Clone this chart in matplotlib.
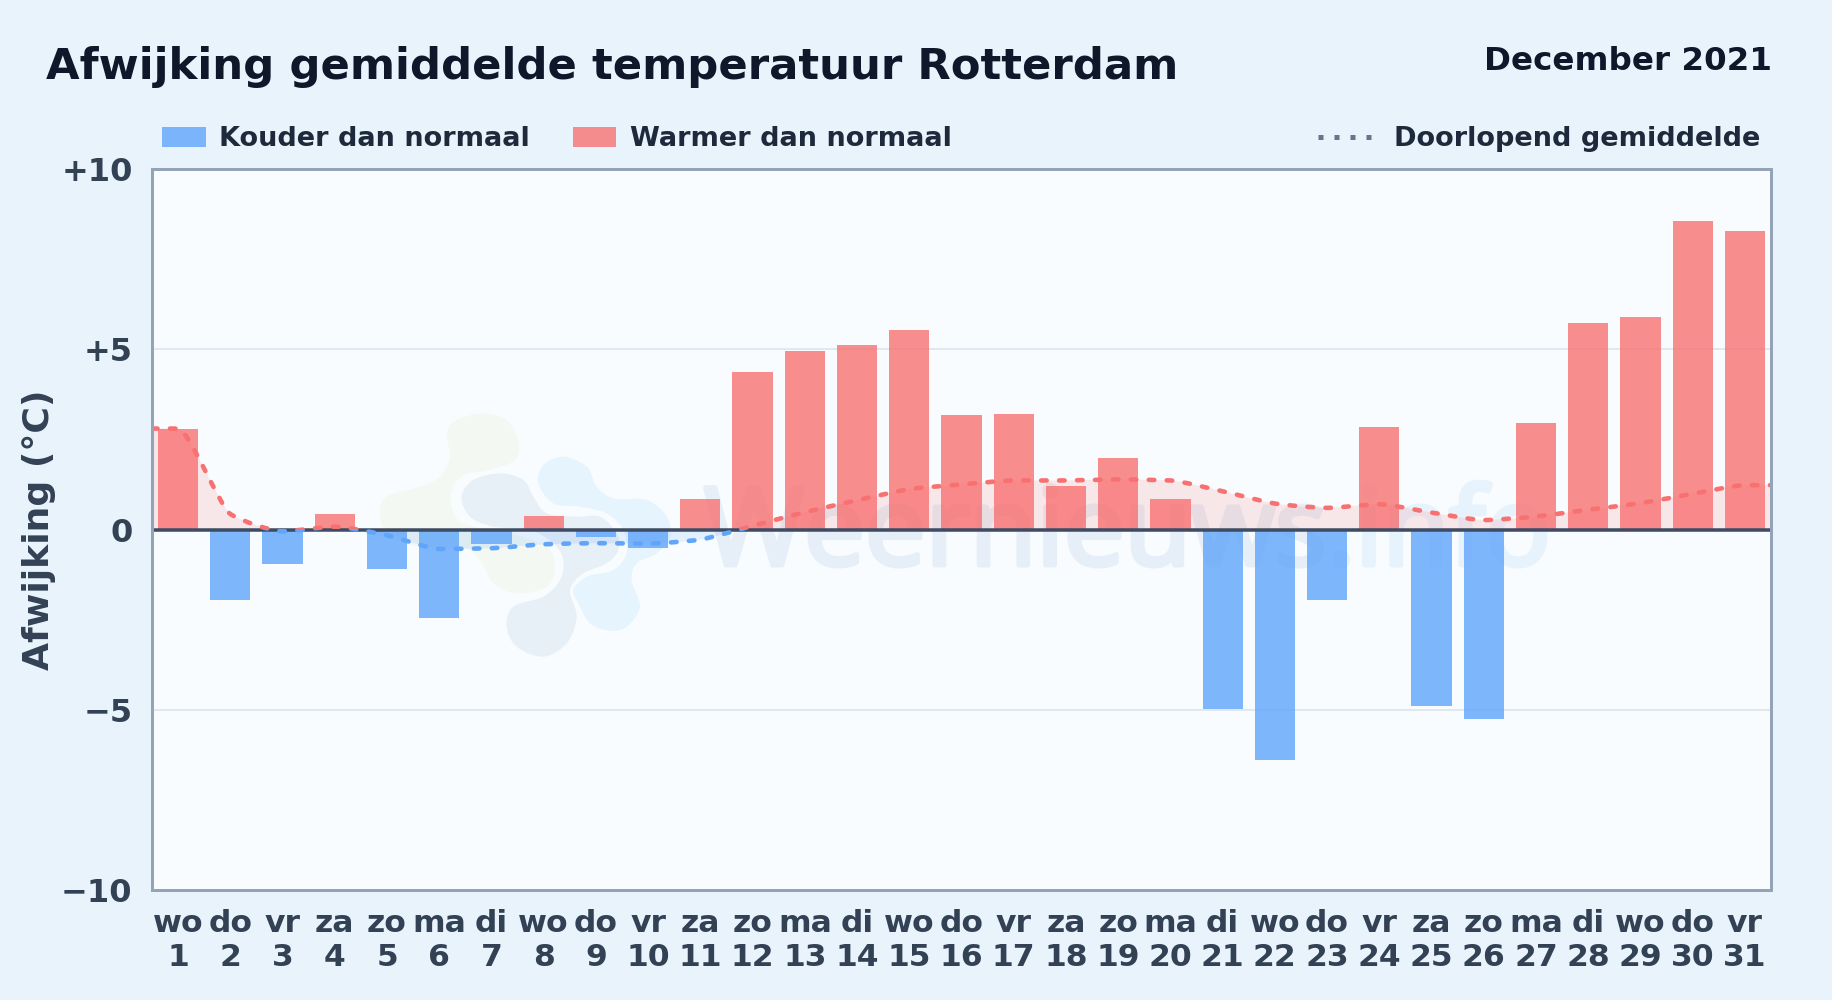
import numpy as np
import matplotlib
matplotlib.use('Agg')
import matplotlib.pyplot as plt
import matplotlib.patheffects as pe
from matplotlib.lines import Line2D
from matplotlib.patches import PathPatch, Rectangle
from matplotlib.path import Path
from matplotlib.transforms import Affine2D

days = list(range(1, 32))
weekdays = ['wo', 'do', 'vr', 'za', 'zo', 'ma', 'di', 'wo', 'do', 'vr', 'za', 'zo', 'ma', 'di', 'wo', 'do',
            'vr', 'za', 'zo', 'ma', 'di', 'wo', 'do', 'vr', 'za', 'zo', 'ma', 'di', 'wo', 'do', 'vr']
deviation = [2.8, -1.95, -0.97, 0.42, -1.1, -2.45, -0.4, 0.38, -0.2, -0.5, 0.85, 4.38, 4.95, 5.13, 5.53, 3.18,
             3.2, 1.2, 1.98, 0.85, -4.97, -6.4, -1.95, 2.85, -4.9, -5.25, 2.95, 5.73, 5.9, 8.55, 8.27]
running_mean = [2.8, 0.43, -0.05, 0.08, -0.16, -0.54, -0.52, -0.41, -0.38, -0.39, -0.28, 0.1, 0.48, 0.81, 1.12, 1.25,
                1.36, 1.36, 1.39, 1.36, 1.06, 0.72, 0.6, 0.7, 0.47, 0.26, 0.36, 0.55, 0.73, 0.99, 1.23]
y_ticks = [-10, -5, 0, 5, 10]
y_tick_labels = ['\u221210', '\u22125', '0', '+5', '+10']

BG = '#e8f3fc'
PLOT_BG = '#f8fcff'
RED = '#f87171'
BLUE = '#60a5fa'
PX = 0.72  # 1 pixel in points at dpi 100

plt.rcParams['font.family'] = 'DejaVu Sans'
plt.rcParams['font.weight'] = 'bold'


def monotone_curve(x, y, handle=0.2):
    # monotone cubic segments, returned as bezier vertices
    x = np.asarray(x, float)
    y = np.asarray(y, float)
    h = np.diff(x)
    s = np.diff(y) / h
    t = np.zeros(len(x))
    for i in range(1, len(x) - 1):
        p = (s[i - 1] * h[i] + s[i] * h[i - 1]) / (h[i - 1] + h[i])
        t[i] = (np.sign(s[i - 1]) + np.sign(s[i])) * min(abs(s[i - 1]), abs(s[i]), 0.5 * abs(p))
    t[0] = s[0]
    t[-1] = s[-1]
    verts = [(x[0], y[0])]
    for i in range(len(h)):
        verts.append((x[i] + h[i] * handle, y[i] + t[i] * h[i] * handle))
        verts.append((x[i + 1] - h[i] * handle, y[i + 1] - t[i + 1] * h[i] * handle))
        verts.append((x[i + 1], y[i + 1]))
    return verts


def blob_path(points):
    # closed smooth outline through the points
    pts = np.array(points, float)
    n = len(pts)
    verts = [tuple(pts[0])]
    codes = [Path.MOVETO]
    for i in range(n):
        p0, p1, p2, p3 = pts[i - 1], pts[i], pts[(i + 1) % n], pts[(i + 2) % n]
        verts += [tuple(p1 + (p2 - p0) / 6), tuple(p2 - (p3 - p1) / 6), tuple(p2)]
        codes += [Path.CURVE4] * 3
    return Path(verts, codes)


fig = plt.figure(figsize=(18.32, 10), dpi=100, facecolor=BG)
# image pixels, y downwards
px = Affine2D().scale(1, -1).translate(0, 1000)

left, right, top, bottom = 152, 1771, 169, 890
ax = fig.add_axes([left / 1832, 1 - bottom / 1000, (right - left) / 1832, (bottom - top) / 1000])
ax.set_facecolor(PLOT_BG)
ax.set_xlim(0.5, 31.5)
ax.set_ylim(-10, 10)

for spine in ax.spines.values():
    spine.set_color('#94a3b8')
    spine.set_linewidth(3 * PX)
    spine.set_zorder(8)

ax.set_yticks(y_ticks, y_tick_labels, fontsize=23, color='#334155')
ax.set_xticks(days, [f'{w}\n{d}' for w, d in zip(weekdays, days)], fontsize=22.6, color='#334155', linespacing=1.25)
ax.tick_params(length=0)
ax.tick_params(axis='x', pad=13.5)
ax.tick_params(axis='y', pad=14)
for v in (-5, 5):
    ax.axhline(v, color='#e2e8f0', lw=2 * PX, zorder=1)

# watermark logo, zoomed outline points mapped to image pixels
green = [(370, 70), (440, 90), (475, 150), (465, 210), (385, 240), (310, 255), (275, 300), (275, 350), (310, 400),
         (450, 430), (560, 470), (585, 530), (560, 590), (470, 610), (400, 580), (360, 510), (300, 470), (180, 470),
         (90, 440), (60, 380), (80, 320), (180, 290), (240, 260), (270, 200), (260, 130), (290, 90)]
navy = [(420, 250), (490, 270), (520, 320), (560, 370), (650, 380), (720, 380), (770, 430), (775, 480), (740, 520),
        (670, 550), (630, 600), (650, 680), (620, 760), (550, 800), (470, 770), (440, 710), (460, 650), (550, 620),
        (600, 570), (610, 510), (580, 460), (510, 420), (400, 410), (330, 380), (305, 320), (340, 270)]
sky = [(610, 200), (680, 230), (710, 290), (760, 325), (860, 330), (920, 380), (930, 440), (890, 490), (830, 520),
       (815, 570), (840, 650), (800, 710), (750, 722), (690, 700), (655, 640), (640, 600), (680, 560), (760, 540),
       (800, 490), (790, 420), (740, 370), (660, 350), (580, 340), (535, 280), (550, 225)]
to_px = Affine2D().scale(1 / 3).translate(360, 390) + px
for outline, color in ((green, '#f3f9f2'), (navy, '#e7eff7'), (sky, '#e6f4fd')):
    ax.add_patch(PathPatch(blob_path(outline), facecolor=color, edgecolor='none', transform=to_px, zorder=1.5))

mark = ax.text(704, 565, 'Weernieuws', transform=px, fontsize=78, family='Open Sans', weight='normal',
               color='#e6eff8', ha='left', va='baseline', zorder=1.6,
               path_effects=[pe.withStroke(linewidth=5 * PX, foreground='#e6eff8')])
fig.canvas.draw()
mark_end = mark.get_window_extent().x1
ax.text(mark_end, 565, '.info', transform=px, fontsize=78, family='Open Sans', weight='normal',
        color='#e6f3fd', ha='left', va='baseline', zorder=1.6,
        path_effects=[pe.withStroke(linewidth=5 * PX, foreground='#e6f3fd')])

# running mean: drawn through the axis edges, red above zero and blue below
x_line = [0.5] + days + [31.5]
y_line = [running_mean[0]] + running_mean + [running_mean[-1]]
curve = monotone_curve(x_line, y_line)
line_path = Path(curve, [Path.MOVETO] + [Path.CURVE4] * (len(curve) - 1))
area_verts = curve + [(31.5, 0), (0.5, 0), (0.5, 0)]
area_path = Path(area_verts, [Path.MOVETO] + [Path.CURVE4] * (len(curve) - 1) + [Path.LINETO, Path.LINETO, Path.CLOSEPOLY])

upper = Rectangle((0.5, 0), 31, 10, transform=ax.transData)
lower = Rectangle((0.5, -10), 31, 10, transform=ax.transData)
for color, clip in ((RED, upper), (BLUE, lower)):
    fill = PathPatch(area_path, facecolor=color, edgecolor='none', alpha=0.15, zorder=2)
    ax.add_patch(fill)
    fill.set_clip_path(clip)

bar_colors = [RED if v >= 0 else BLUE for v in deviation]
ax.bar(days, deviation, width=0.77, color=bar_colors, alpha=0.8, zorder=3)
ax.axhline(0, color='#3d4b63', lw=3.5 * PX, zorder=4)

for color, clip in ((RED, upper), (BLUE, lower)):
    dashed = PathPatch(line_path, facecolor='none', edgecolor=color, lw=4.6 * PX, capstyle='round',
                       linestyle=(0, (1.2, 2.7)), zorder=5)
    ax.add_patch(dashed)
    dashed.set_clip_path(clip)

ax.set_ylabel('Afwijking (\u00b0C)', fontsize=26.1, color='#334155', weight='bold', va='center')
ax.yaxis.set_label_coords((39.5 - left) / (right - left), 0.5)

# title and legend row
fig.text(46, 79, 'Afwijking gemiddelde temperatuur Rotterdam', transform=px, fontsize=31.2, color='#0f172a',
         ha='left', va='baseline')
fig.text(1771.5, 70, 'December 2021', transform=px, fontsize=23.4, color='#0f172a', ha='right', va='baseline')

fig.add_artist(Rectangle((162, 127), 44, 19.5, transform=px, facecolor=BLUE, alpha=0.8, edgecolor='none'))
fig.add_artist(Rectangle((573, 127), 43, 19.5, transform=px, facecolor=RED, alpha=0.8, edgecolor='none'))
fig.add_artist(Line2D([1318, 1372], [136.7, 136.7], transform=px, color='#64748b', lw=5 * PX,
                      dash_capstyle='butt', linestyle=(0, (1, 2.2))))
fig.text(219, 146, 'Kouder dan normaal', transform=px, fontsize=19.5, color='#1e293b', ha='left', va='baseline')
fig.text(630, 146, 'Warmer dan normaal', transform=px, fontsize=19.5, color='#1e293b', ha='left', va='baseline')
fig.text(1760, 146, 'Doorlopend gemiddelde', transform=px, fontsize=19.5, color='#1e293b', ha='right', va='baseline')

fig.savefig('out.png', dpi=100, facecolor=BG)
